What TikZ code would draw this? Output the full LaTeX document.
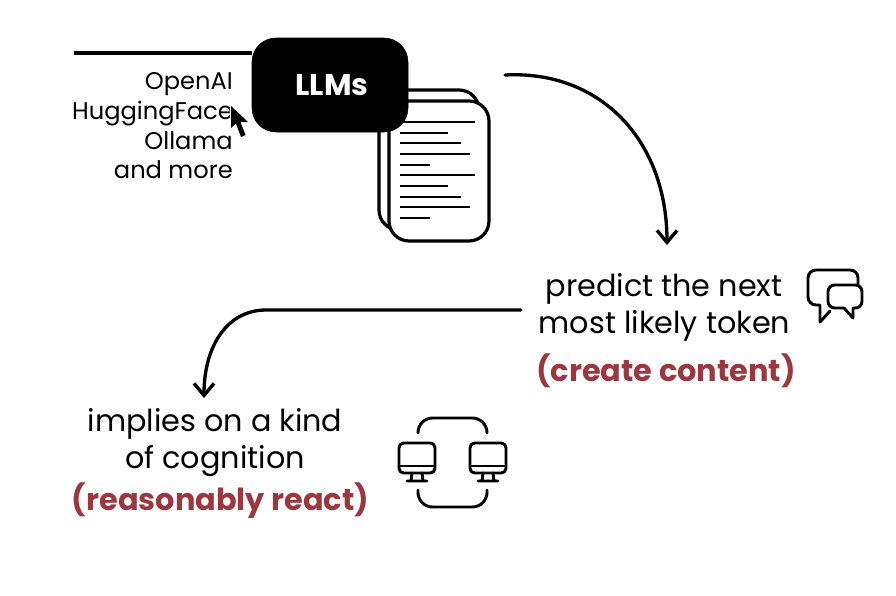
\documentclass[tikz,border=0pt]{standalone}
\usepackage{fontspec}
\setmainfont{Poppins}
\usetikzlibrary{arrows.meta}
\definecolor{wine}{HTML}{9C3740}
\tikzset{
  px/.style={x=0.75pt,y=-0.75pt},
  line/.style={draw=black,line width=2.5pt,line cap=round,line join=round},
  rule/.style={draw=black,line width=2.2pt,line cap=butt},
  icon/.style={draw=black,line width=2.2pt,line cap=round,line join=round},
  doc/.style={draw=black,line width=2.4pt,fill=white,rounded corners=15pt},
  open/.style={-{Straight Barb[length=9pt,width=15pt,line width=2.5pt]}},
  txt/.style={font=\fontsize{22.7pt}{22.7pt}\selectfont,inner sep=0pt,text=black,anchor=base},
  small/.style={font=\fontsize{18.1pt}{18.1pt}\selectfont,inner sep=0pt,text=black,anchor=base east},
  redtxt/.style={font=\fontsize{22.8pt}{22.8pt}\bfseries\selectfont,inner sep=0pt,text=wine,anchor=base},
}
\begin{document}
\begin{tikzpicture}[px]
\useasboundingbox (0,0) rectangle (896,596);
% documents
\draw[doc] (379,90) rectangle (479,230);
\draw[doc] (389,101) rectangle (489,241);
\foreach \y/\e in {122/475,133/448,143/461,154/470,165/430,175/475,186/448,197/461,207/470,218/430}
  \draw[rule] (400,\y) -- (\e,\y);
% top rule and LLMs box
\coordinate (ruleStart) at (74,53);
\node[draw=black,fill=black,rounded corners=18pt,minimum width=117pt,minimum height=70.5pt,inner sep=0pt,
      text=white,font=\fontsize{22.5pt}{22.5pt}\bfseries\selectfont] (llms) at (330,85) {\hspace{3pt}LLMs};
\draw[line width=2.5pt,black] (ruleStart) -- (ruleStart -| llms.west);
% provider list
\node[small] (p1) at (233,89) {OpenAI};
\node[small] (p2) at (233,119) {HuggingFace};
\node[small] (p3) at (233,149) {Ollama};
\node[small] (p4) at (233,178) {and more};
% cursor
\draw[white,line width=1.6pt,line join=round]
  (231,106) -- (231,128) -- (236,123.5) -- (241,137) -- (245.5,135) -- (240.5,122) -- (248,122) -- cycle;
\fill[black]
  (231,106) -- (231,128) -- (236,123.5) -- (241,137) -- (245.5,135) -- (240.5,122) -- (248,122) -- cycle;
% first text group
\node[txt] (t1) at (664,296) {predict the next};
\node[txt] (t2) at (664.5,333) {most likely token};
\node[redtxt] (t3) at (666,381) {(create content)};
% second text group
\node[txt] (t4) at (215,431) {implies on a kind};
\node[txt] (t5) at (215,468) {of cognition};
\node[redtxt] (t6) at (220.5,510) {(reasonably react)};
% connectors
\coordinate (arrowOneStart) at (505,75);
\coordinate (arrowOneEnd) at (667,245);
\coordinate (arrowTwoStart) at (521,310);
\coordinate (arrowTwoBend) at (266,310);
\coordinate (arrowTwoEnd) at (204,398);
\draw[line,open] (arrowOneStart) .. controls (600,70) and (667,140) .. (arrowOneEnd);
\draw[line,open] (arrowTwoStart) -- (arrowTwoBend) .. controls (228,310) and (204,345) .. (arrowTwoEnd);
% speech bubbles
\draw[icon] (830,311) -- (820,322) -- (820,305) [rounded corners=6pt] -- (808,305) -- (808,270) -- (858,270) -- (858,285);
\draw[icon] (844,308) -- (853,318) -- (853,308) [rounded corners=5pt] -- (862,308) -- (862,285) -- (828,285) -- (828,308) -- (844,308);
% monitors
\foreach \dx in {0,71}{
  \begin{scope}[xshift=\dx*0.75pt]
    \draw[icon,rounded corners=3.5pt] (399,443) rectangle (435,473);
    \draw[icon] (399,466) -- (435,466);
    \draw[icon] (412,473) -- (411,481) (422,473) -- (423,481) (407,481) -- (427,481);
  \end{scope}
}
\draw[icon,rounded corners=11pt] (418,433) -- (418,418) -- (487,418) -- (487,433);
\draw[icon,rounded corners=11pt] (418,490) -- (418,507) -- (487,507) -- (487,490);
\end{tikzpicture}
\end{document}
